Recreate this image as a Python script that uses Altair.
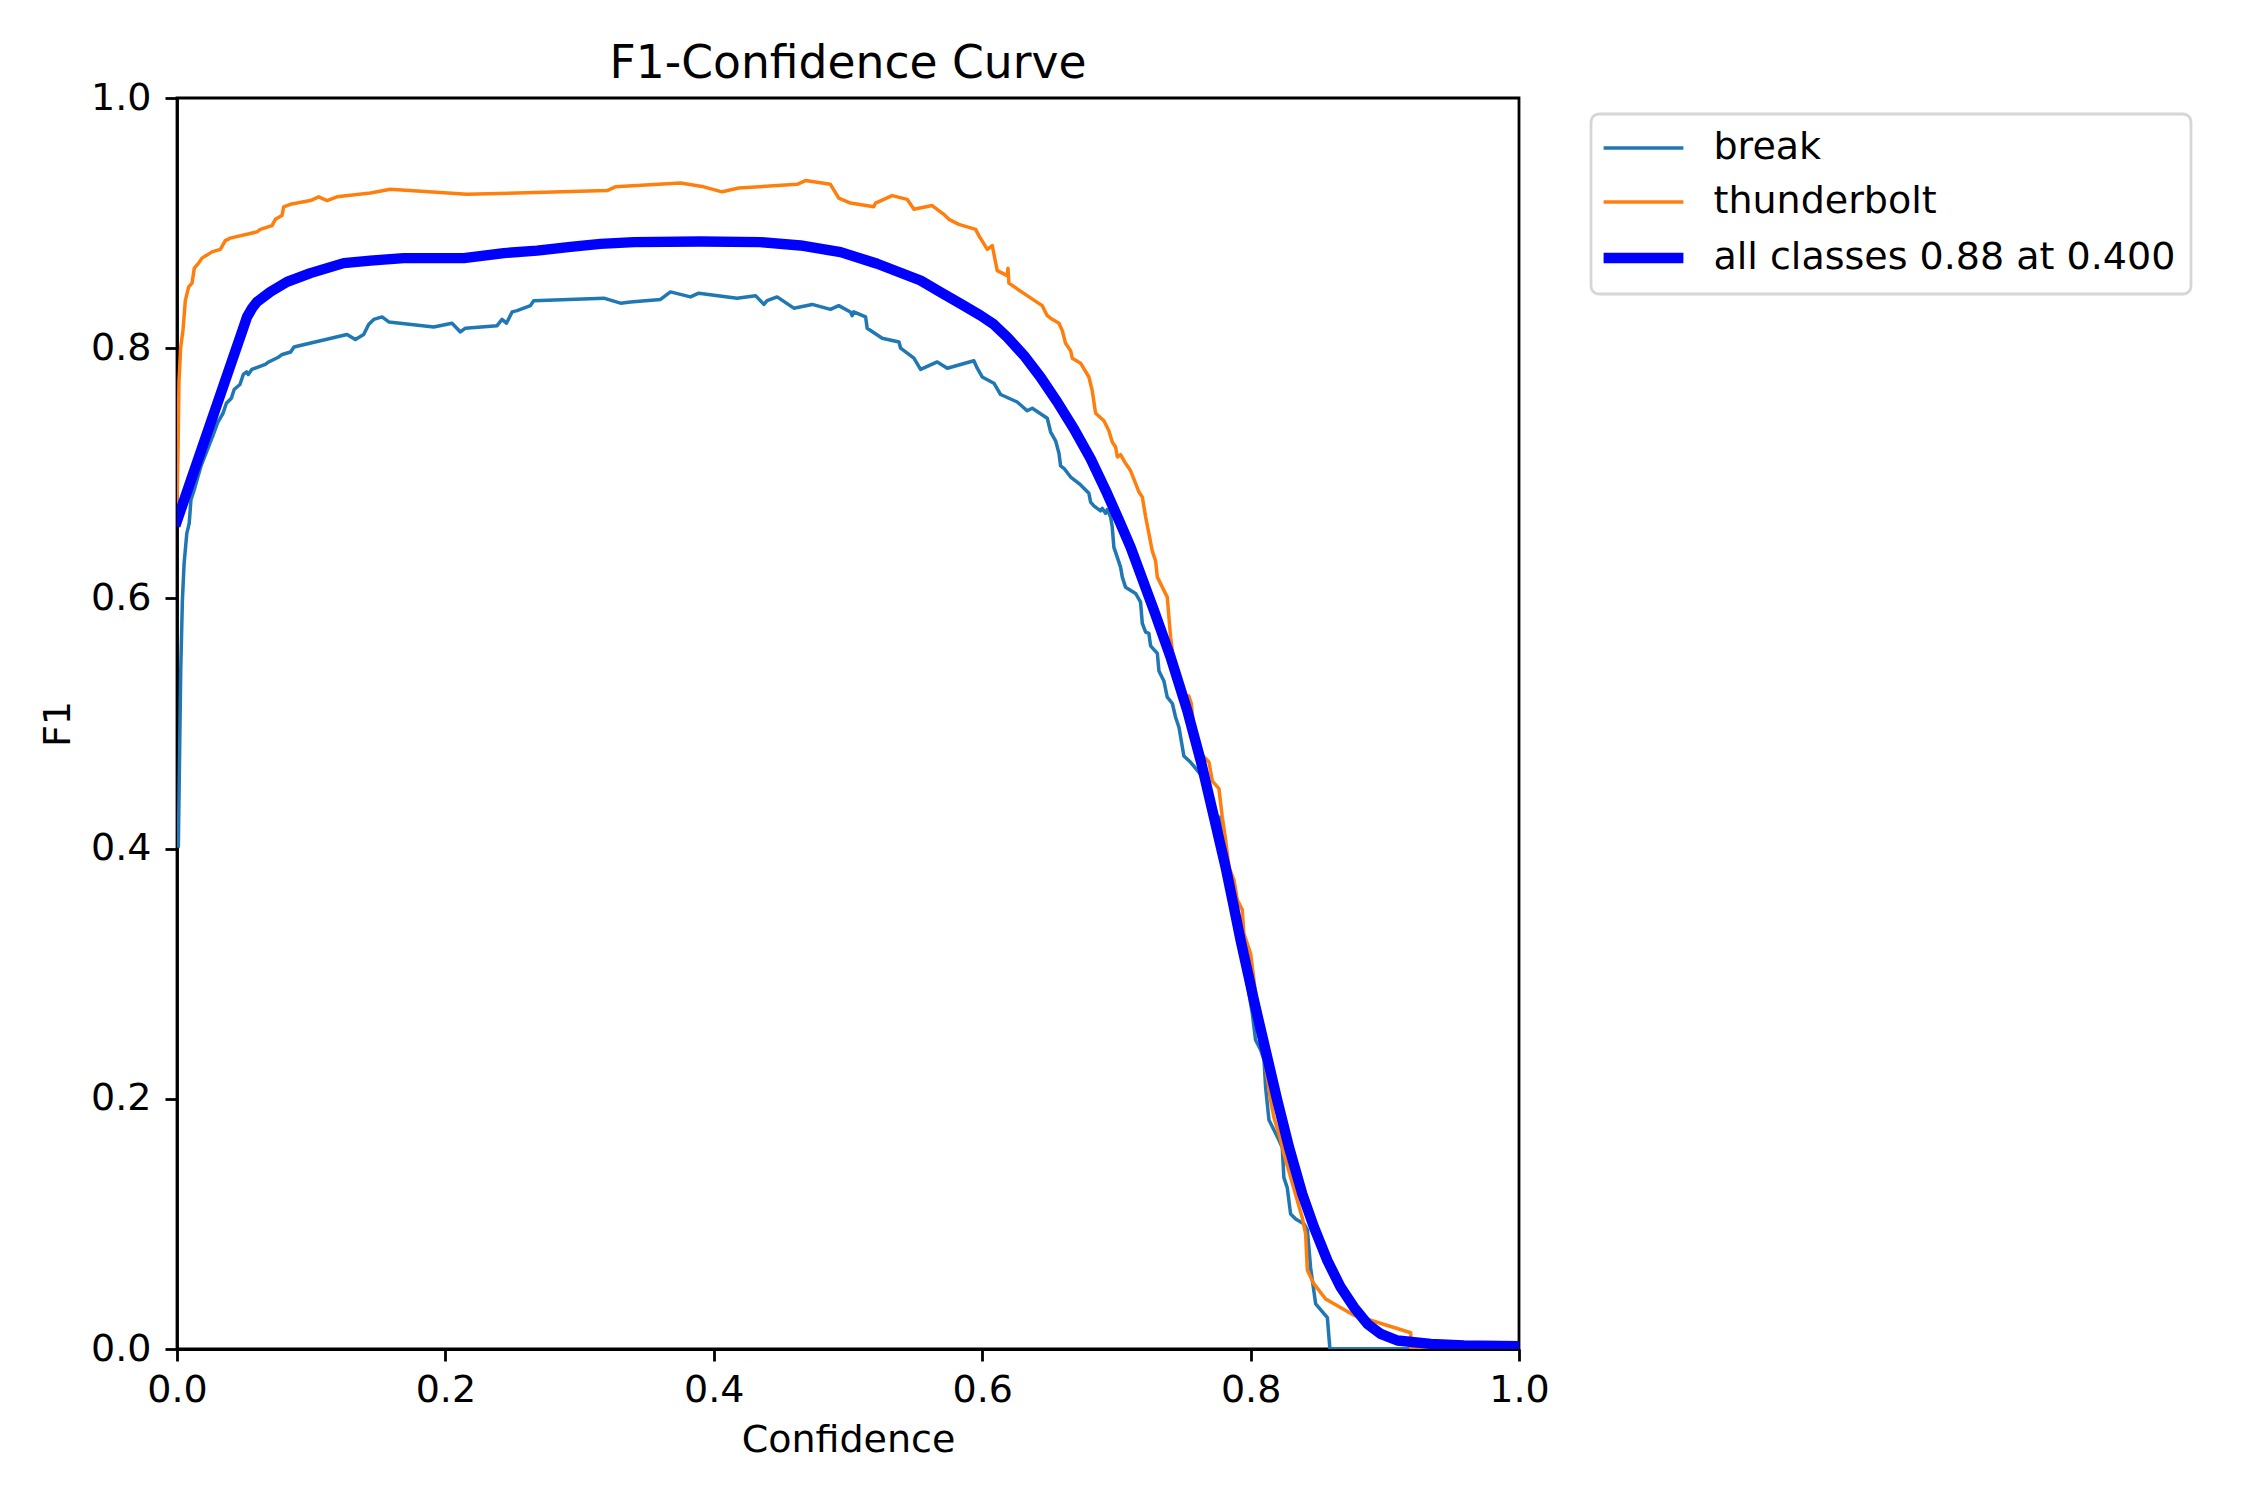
import altair as alt
import pandas as pd

# ---- data ----
break_conf = [0.0010, 0.0028, 0.0040, 0.0053, 0.0073, 0.0091, 0.0104, 0.0129, 0.0179, 0.0267,
              0.0305, 0.0343, 0.0368, 0.0405, 0.0426, 0.0469, 0.0494, 0.0519, 0.0531, 0.0557,
              0.0658, 0.0683, 0.0759, 0.0784, 0.0847, 0.0872, 0.0910, 0.1267, 0.1329, 0.1391,
              0.1428, 0.1466, 0.1528, 0.1578, 0.1913, 0.2049, 0.2112, 0.2149, 0.2385, 0.2422,
              0.2455, 0.2497, 0.2534, 0.2634, 0.2658, 0.3180, 0.3305, 0.3379, 0.3603, 0.3677,
              0.3826, 0.3888, 0.4174, 0.4311, 0.4373, 0.4397, 0.4472, 0.4596, 0.4733, 0.4869,
              0.4931, 0.5018, 0.5031, 0.5043, 0.5131, 0.5143, 0.5255, 0.5380, 0.5392, 0.5491,
              0.5541, 0.5665, 0.5740, 0.5938, 0.5963, 0.6000, 0.6087, 0.6137, 0.6261, 0.6335,
              0.6373, 0.6485, 0.6510, 0.6547, 0.6572, 0.6584, 0.6609, 0.6659, 0.6720, 0.6795,
              0.6808, 0.6832, 0.6882, 0.6895, 0.6919, 0.6932, 0.6957, 0.6969, 0.6981, 0.7006,
              0.7031, 0.7044, 0.7068, 0.7143, 0.7180, 0.7193, 0.7218, 0.7242, 0.7255, 0.7305,
              0.7317, 0.7354, 0.7379, 0.7417, 0.7441, 0.7466, 0.7503, 0.7553, 0.7677, 0.7715,
              0.7752, 0.7776, 0.7801, 0.7850, 0.7926, 0.7988, 0.8013, 0.8037, 0.8075, 0.8100,
              0.8112, 0.8137, 0.8174, 0.8211, 0.8236, 0.8248, 0.8273, 0.8298, 0.8336, 0.8398,
              0.8423, 0.8447, 0.8485, 0.8572, 0.8591, 1.0000]
break_f1 = [0.402, 0.544, 0.598, 0.628, 0.652, 0.660, 0.679, 0.687, 0.706, 0.730,
            0.741, 0.748, 0.756, 0.760, 0.767, 0.771, 0.779, 0.781, 0.779, 0.783,
            0.787, 0.789, 0.793, 0.795, 0.797, 0.801, 0.802, 0.811, 0.807, 0.811,
            0.819, 0.823, 0.825, 0.821, 0.817, 0.820, 0.813, 0.816, 0.818, 0.823,
            0.820, 0.829, 0.830, 0.834, 0.838, 0.840, 0.836, 0.837, 0.839, 0.845,
            0.841, 0.844, 0.840, 0.842, 0.835, 0.838, 0.841, 0.832, 0.835, 0.831,
            0.834, 0.829, 0.826, 0.829, 0.825, 0.816, 0.808, 0.805, 0.800, 0.792,
            0.783, 0.789, 0.784, 0.790, 0.784, 0.777, 0.772, 0.763, 0.757, 0.750,
            0.752, 0.744, 0.733, 0.726, 0.716, 0.706, 0.704, 0.697, 0.692, 0.684,
            0.677, 0.674, 0.670, 0.672, 0.668, 0.671, 0.665, 0.657, 0.641, 0.633,
            0.625, 0.617, 0.609, 0.604, 0.597, 0.580, 0.573, 0.572, 0.562, 0.556,
            0.542, 0.534, 0.521, 0.516, 0.505, 0.497, 0.474, 0.469, 0.453, 0.439,
            0.425, 0.425, 0.399, 0.370, 0.322, 0.284, 0.268, 0.247, 0.239, 0.231,
            0.209, 0.183, 0.175, 0.167, 0.161, 0.137, 0.129, 0.108, 0.104, 0.100,
            0.095, 0.065, 0.036, 0.025, 0.000, 0.000]

thunder_conf = [0.0000, 0.0008, 0.0015, 0.0028, 0.0045, 0.0062, 0.0087, 0.0112, 0.0129, 0.0161,
                0.0186, 0.0261, 0.0323, 0.0360, 0.0397, 0.0596, 0.0621, 0.0708, 0.0733, 0.0782,
                0.0795, 0.0845, 0.0994, 0.1056, 0.1118, 0.1192, 0.1441, 0.1590, 0.2161, 0.3205,
                0.3266, 0.3752, 0.3925, 0.4062, 0.4186, 0.4621, 0.4683, 0.4869, 0.4931, 0.5018,
                0.5192, 0.5205, 0.5329, 0.5441, 0.5491, 0.5627, 0.5714, 0.5752, 0.5826, 0.5951,
                0.5975, 0.6038, 0.6075, 0.6112, 0.6187, 0.6192, 0.6199, 0.6335, 0.6447, 0.6485,
                0.6509, 0.6572, 0.6597, 0.6621, 0.6659, 0.6671, 0.6733, 0.6795, 0.6820, 0.6845,
                0.6907, 0.6944, 0.6969, 0.6994, 0.7007, 0.7031, 0.7068, 0.7106, 0.7143, 0.7168,
                0.7193, 0.7218, 0.7242, 0.7267, 0.7292, 0.7305, 0.7342, 0.7379, 0.7404, 0.7424,
                0.7516, 0.7540, 0.7558, 0.7578, 0.7628, 0.7665, 0.7690, 0.7715, 0.7764, 0.7789,
                0.7814, 0.7839, 0.7876, 0.7901, 0.7938, 0.7950, 0.7975, 0.8000, 0.8025, 0.8037,
                0.8087, 0.8149, 0.8174, 0.8224, 0.8248, 0.8385, 0.8410, 0.8423, 0.8472, 0.8559,
                0.8770, 0.8895, 0.9193, 0.9195, 1.0000]
thunder_f1 = [0.674, 0.720, 0.774, 0.801, 0.815, 0.838, 0.849, 0.852, 0.864, 0.868,
              0.872, 0.877, 0.879, 0.886, 0.888, 0.893, 0.895, 0.898, 0.903, 0.906,
              0.913, 0.915, 0.918, 0.921, 0.918, 0.921, 0.924, 0.927, 0.923, 0.926,
              0.929, 0.932, 0.929, 0.925, 0.928, 0.931, 0.934, 0.931, 0.920, 0.916,
              0.913, 0.916, 0.922, 0.919, 0.911, 0.914, 0.907, 0.903, 0.899, 0.895,
              0.890, 0.879, 0.882, 0.862, 0.858, 0.864, 0.852, 0.842, 0.834, 0.826,
              0.824, 0.820, 0.814, 0.804, 0.798, 0.792, 0.788, 0.777, 0.766, 0.748,
              0.742, 0.734, 0.725, 0.721, 0.713, 0.715, 0.708, 0.702, 0.692, 0.685,
              0.681, 0.665, 0.652, 0.638, 0.630, 0.617, 0.609, 0.601, 0.569, 0.553,
              0.522, 0.522, 0.516, 0.494, 0.476, 0.472, 0.469, 0.454, 0.448, 0.425,
              0.407, 0.385, 0.375, 0.359, 0.351, 0.332, 0.324, 0.316, 0.295, 0.284,
              0.244, 0.199, 0.185, 0.167, 0.156, 0.105, 0.092, 0.063, 0.052, 0.040,
              0.027, 0.023, 0.013, 0.000, 0.000]

all_conf = [0.0000, 0.0500, 0.0522, 0.0560, 0.0596, 0.0695, 0.0820, 0.0994, 0.1242, 0.1441,
            0.1689, 0.2137, 0.2435, 0.2683, 0.2932, 0.3155, 0.3404, 0.3901, 0.4348, 0.4646,
            0.4945, 0.5218, 0.5541, 0.5690, 0.5839, 0.5988, 0.6087, 0.6187, 0.6311, 0.6435,
            0.6560, 0.6683, 0.6808, 0.6932, 0.7031, 0.7106, 0.7280, 0.7404, 0.7528, 0.7628,
            0.7727, 0.7814, 0.7876, 0.7926, 0.8025, 0.8112, 0.8199, 0.8286, 0.8385, 0.8472,
            0.8572, 0.8671, 0.8770, 0.8870, 0.8969, 0.9094, 0.9342, 0.9590, 1.0000]
all_f1 = [0.662, 0.818, 0.825, 0.832, 0.837, 0.845, 0.853, 0.860, 0.868, 0.870,
          0.872, 0.872, 0.876, 0.878, 0.881, 0.8834, 0.8848, 0.8853, 0.8848, 0.8821,
          0.8768, 0.8675, 0.8541, 0.8448, 0.8355, 0.8261, 0.8190, 0.8088, 0.7942, 0.7768,
          0.7569, 0.7356, 0.7116, 0.6836, 0.6596, 0.6409, 0.5903, 0.5530, 0.5104, 0.4704,
          0.4251, 0.3851, 0.3530, 0.3265, 0.2786, 0.2386, 0.1986, 0.1613, 0.1240, 0.0974,
          0.0707, 0.0494, 0.0334, 0.0201, 0.0121, 0.0068, 0.0041, 0.0028, 0.0023]

series_names = ["break", "thunderbolt", "all classes 0.88 at 0.400"]
series_colors = ["#1f77b4", "#ff7f0e", "#0000ff"]
series_widths = [3.5, 3.5, 10.4]
tick_values = [0.0, 0.2, 0.4, 0.6, 0.8, 1.0]

frames = [
    pd.DataFrame({"conf": break_conf, "f1": break_f1, "series": series_names[0]}),
    pd.DataFrame({"conf": thunder_conf, "f1": thunder_f1, "series": series_names[1]}),
    pd.DataFrame({"conf": all_conf, "f1": all_f1, "series": series_names[2]}),
]

FONT = "DejaVu Sans"
FS = 38

legend = alt.Legend(
    title=None, orient="none", legendX=1414, legendY=16,
    labelFont=FONT, labelFontSize=FS, labelColor="black", labelLimit=0,
    symbolType="M-4.2,0H4.2", symbolSize=361, symbolOffset=18.5,
    padding=15, rowPadding=16, labelOffset=51,
    strokeColor="#d6d6d6", fillColor="white", cornerRadius=8,
)

x_enc = alt.X("conf:Q", scale=alt.Scale(domain=[0, 1], nice=False, zero=False),
              axis=alt.Axis(title="Confidence", values=tick_values, format=".1f",
                            labelFlush=False, labelPadding=10, titleBaseline="alphabetic",
                            titleY=102))
y_enc = alt.Y("f1:Q", scale=alt.Scale(domain=[0, 1], nice=False, zero=False),
              axis=alt.Axis(title="F1", values=tick_values, format=".1f",
                            labelFlush=False, labelPadding=14, titleBaseline="alphabetic",
                            titleX=-108))
color_enc = alt.Color("series:N", scale=alt.Scale(domain=series_names, range=series_colors),
                      legend=legend)
width_enc = alt.StrokeWidth("series:N",
                            scale=alt.Scale(type="ordinal", domain=series_names, range=series_widths),
                            legend=legend)

layers = [
    alt.Chart(f).mark_line(strokeCap="square", strokeJoin="round", clip=True).encode(
        x=x_enc, y=y_enc, color=color_enc, strokeWidth=width_enc)
    for f in frames
]

chart = alt.layer(*layers).properties(
    width=1342, height=1251,
    autosize=alt.AutoSizeParams(type="none"),
    padding={"left": 169, "top": 90, "right": 720, "bottom": 140},
    title=alt.TitleParams("F1-Confidence Curve", font=FONT, fontSize=45.6, fontWeight="normal",
                          color="black", anchor="middle", frame="group", offset=11, dy=20),
).configure_view(
    stroke="black", strokeWidth=2.8
).configure_axis(
    grid=False, domainColor="black", domainWidth=2.8, tickColor="black", tickWidth=2.8,
    tickSize=12, labelFont=FONT, labelFontSize=FS, labelColor="black",
    titleFont=FONT, titleFontSize=FS, titleFontWeight="normal", titleColor="black",
).configure_legend(
    strokeWidth=2.8
)

chart.save("out.html", embed_options={"renderer": "svg", "actions": False})
